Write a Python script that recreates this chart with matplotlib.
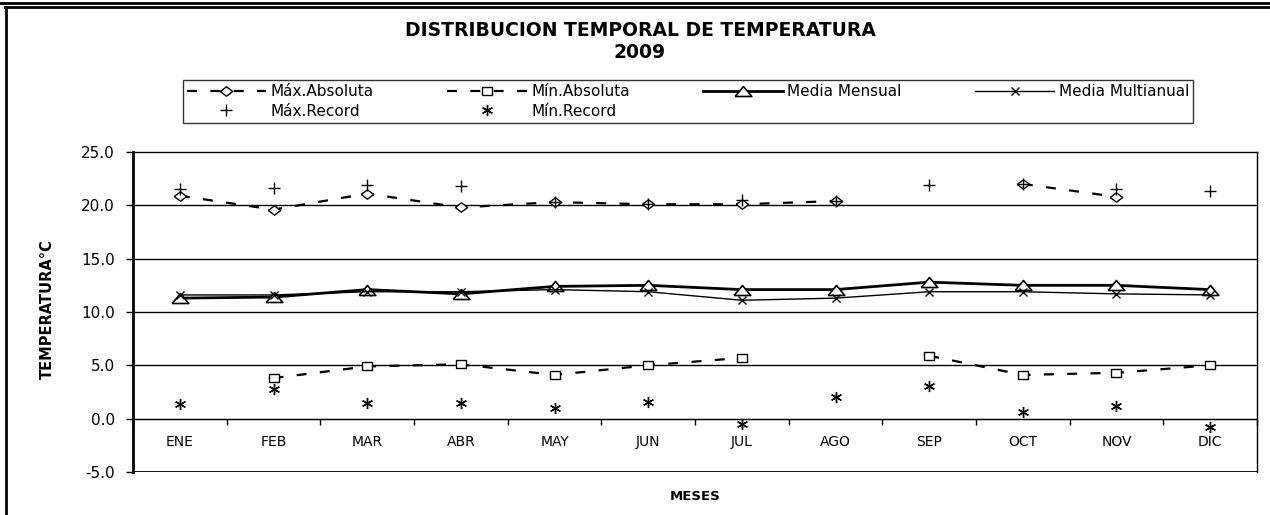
import numpy as np
import matplotlib.pyplot as plt
from matplotlib.lines import Line2D

plt.rcParams['font.family'] = ['DejaVu Sans']

# datos
meses = ['ENE', 'FEB', 'MAR', 'ABR', 'MAY', 'JUN', 'JUL', 'AGO', 'SEP', 'OCT', 'NOV', 'DIC']
max_abs = [20.9, 19.6, 21.1, 19.8, 20.3, 20.1, 20.1, 20.4, np.nan, 22.0, 20.8, np.nan]
min_abs = [np.nan, 3.8, 4.9, 5.1, 4.1, 5.0, 5.7, np.nan, 5.9, 4.1, 4.3, 5.0]
media_mensual = [11.3, 11.4, 12.1, 11.7, 12.4, 12.5, 12.1, 12.1, 12.8, 12.5, 12.5, 12.1]
media_multi = [11.6, 11.6, 11.9, 11.9, 12.1, 11.9, 11.1, 11.3, 11.9, 11.9, 11.7, 11.6]
max_record = [21.5, 21.6, 21.9, 21.8, 20.3, 20.1, 20.5, 20.4, 21.9, 22.0, 21.5, 21.3]
min_record = [1.4, 2.8, 1.5, 1.5, 1.0, 1.6, -0.5, 2.0, 3.1, 0.6, 1.2, -0.8]

x = np.arange(len(meses))

# marcadores ensanchados (como en excel)
rombo = [(-1, 0), (0, 0.75), (1, 0), (0, -0.75), (-1, 0)]
cuadro = [(-1, -0.75), (1, -0.75), (1, 0.75), (-1, 0.75), (-1, -0.75)]
triang = [(-1, -0.6), (0, 0.6), (1, -0.6), (-1, -0.6)]

fig = plt.figure(figsize=(12.7, 5.15), dpi=100)
ax = fig.add_axes([133 / 1270, 43 / 515, 1124 / 1270, 320 / 515])

ax.plot(x, max_abs, ls=(0, (4.5, 6)), lw=1.6, color='k', marker=rombo, ms=9,
        mfc='white', mec='k', mew=1, label='Máx.Absoluta')
ax.plot(x, max_record, ls='none', marker='+', ms=8, mew=1, color='k', label='Máx.Record')
ax.plot(x, min_abs, ls=(0, (4.5, 6)), lw=1.6, color='k', marker=cuadro, ms=7,
        mfc='white', mec='k', mew=1, label='Mín.Absoluta')
ax.plot(x, min_record, ls='none', marker=(6, 2, 0), ms=8, mew=1, color='k', label='Mín.Record')
ax.plot(x, media_mensual, ls='-', lw=2, color='k', marker=triang, ms=12,
        mfc='white', mec='k', mew=1.2, label='Media Mensual')
ax.plot(x, media_multi, ls='-', lw=1, color='k', marker='x', ms=6, mew=1, label='Media Multianual')

ax.set_xlim(-0.5, 11.5)
ax.set_ylim(-5, 25)
ax.set_yticks(np.arange(-5, 26, 5))
ax.set_yticklabels(['%.1f' % v for v in np.arange(-5, 26, 5)], fontsize=11)
for v in np.arange(0, 25, 5):
    ax.axhline(v, color='k', lw=1, zorder=1)

# eje de categorias cruzando en 0
ax.set_xticks(np.arange(-0.5, 12, 1))
ax.set_xticklabels([])
ax.tick_params(axis='x', direction='out', length=4, width=1, pad=0)
ax.set_xticks(x, minor=True)
ax.set_xticklabels(meses, minor=True, fontsize=11)
ax.tick_params(axis='x', which='minor', length=0, pad=12)
ax.spines['bottom'].set_position(('data', 0))
ax.axhline(-5, color='k', lw=1.3)
ax.tick_params(axis='y', direction='out', length=5, width=1, pad=8)
ax.spines['left'].set_linewidth(2)
for s in ['top', 'right']:
    ax.spines[s].set_linewidth(1)

fig.text(47 / 1270, 1 - 309 / 515, 'TEMPERATURA°C', rotation=90, ha='center', va='center',
         fontsize=10.5, fontweight='bold')
fig.text(695 / 1270, 1 - 496 / 515, 'MESES', ha='center', va='center',
         fontsize=9.5, fontweight='bold')

fig.text(640 / 1270, 1 - 30 / 515, 'DISTRIBUCION TEMPORAL DE TEMPERATURA', ha='center', va='center',
         fontsize=13.5, fontweight='bold')
fig.text(640 / 1270, 1 - 52 / 515, '2009', ha='center', va='center', fontsize=13.5, fontweight='bold')

h, l = ax.get_legend_handles_labels()
leg = fig.legend(h, l, ncol=4, loc='center', bbox_to_anchor=(688 / 1270, 1 - 101.5 / 515),
                 fontsize=11, frameon=True, fancybox=False, edgecolor='k',
                 handlelength=5.2, columnspacing=4.8, labelspacing=0.3,
                 handletextpad=0.3, borderpad=0.25, borderaxespad=0)
leg.get_frame().set_linewidth(1)

# marco exterior
W, H = 1270, 515
fig.add_artist(Line2D([0, 1], [1 - 2.5 / H, 1 - 2.5 / H], color='k', lw=2))
fig.add_artist(Line2D([5 / W, 1], [1 - 7 / H, 1 - 7 / H], color='k', lw=2))
fig.add_artist(Line2D([5.5 / W, 5.5 / W], [0, 1 - 7 / H], color='k', lw=2))

fig.savefig('out.png', dpi=100)
